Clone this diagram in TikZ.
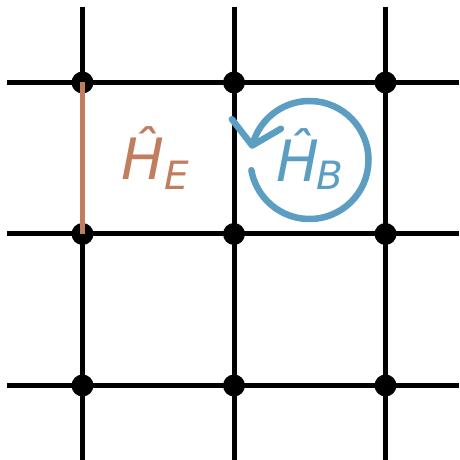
\documentclass[tikz,border=0pt]{standalone}
\usepackage{fontspec}
\newfontfamily\dvsans{DejaVu Sans}
\usetikzlibrary{arrows.meta,bending}
\definecolor{edgeorange}{RGB}{193,126,94}
\definecolor{loopblue}{RGB}{91,158,194}
\tikzset{
  gridline/.style={line width=5pt, black},
  site/.style={circle, fill=black, minimum size=22pt, inner sep=0pt},
  edgeop/.style={line width=5pt, edgeorange},
  loopop/.style={line width=6.5pt, loopblue, line cap=round,
    -{Straight Barb[length=22pt, width=50pt, round, flex]}},
  bigsym/.style={inner sep=0pt, anchor=base west, font=\dvsans\itshape\fontsize{57}{62}\selectfont},
  subsym/.style={inner sep=0pt, anchor=base west, font=\dvsans\itshape\fontsize{39}{44}\selectfont},
}
\begin{document}
\begin{tikzpicture}[x=1pt,y=1pt]
\useasboundingbox (0,0) rectangle (459,460);
% line ends
\coordinate (hl1) at (7,377.5);  \coordinate (hr1) at (459,377.5);
\coordinate (hl2) at (7,226);    \coordinate (hr2) at (459,226);
\coordinate (hl3) at (7,74.5);   \coordinate (hr3) at (459,74.5);
\coordinate (vt1) at (82.5,453); \coordinate (vb1) at (82.5,0);
\coordinate (vt2) at (234,453);  \coordinate (vb2) at (234,0);
\coordinate (vt3) at (385.5,453);\coordinate (vb3) at (385.5,0);
\draw[gridline] (hl1) -- (hr1);
\draw[gridline] (hl2) -- (hr2);
\draw[gridline] (hl3) -- (hr3);
\draw[gridline] (vt1) -- (vb1);
\draw[gridline] (vt2) -- (vb2);
\draw[gridline] (vt3) -- (vb3);
% sites
\node[site] (s11) at (82.5,377.5) {};
\node[site] (s12) at (234,377.5) {};
\node[site] (s13) at (385.5,377.5) {};
\node[site] (s21) at (82.5,226) {};
\node[site] (s22) at (234,226) {};
\node[site] (s23) at (385.5,226) {};
\node[site] (s31) at (82.5,74.5) {};
\node[site] (s32) at (234,74.5) {};
\node[site] (s33) at (385.5,74.5) {};
% edge operator
\draw[edgeop] (s11.center) -- (s21.center);
\node[bigsym, text=edgeorange] (he) at (121,280) {\^{H}};
\node[subsym, text=edgeorange] (hesub) at (164,270) {E};
% plaquette operator
\coordinate (pc) at (309.5,300);
\draw[loopop] ([shift={(190:59)}]pc) arc (190:529:59);
\node[bigsym, text=loopblue] (hb) at (276,278) {\^{H}};
\node[subsym, text=loopblue] (hbsub) at (316,270) {B};
\end{tikzpicture}
\end{document}
